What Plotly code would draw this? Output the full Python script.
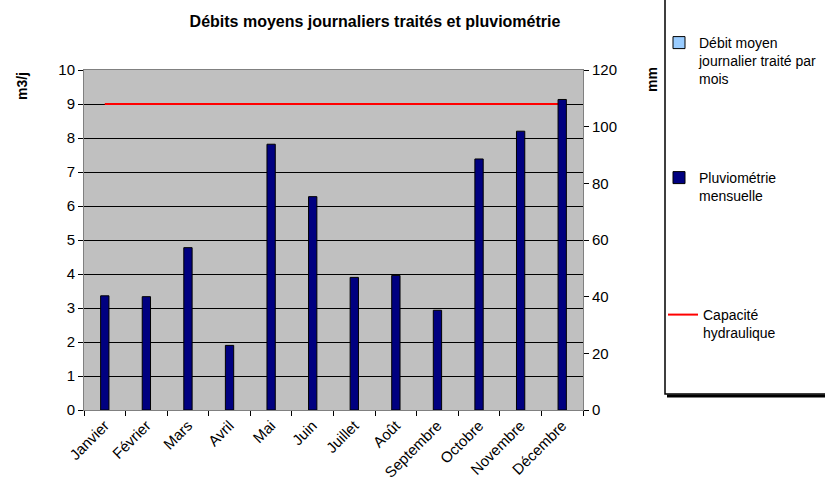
import plotly.graph_objects as go

months = ["Janvier", "Février", "Mars", "Avril", "Mai", "Juin", "Juillet",
          "Août", "Septembre", "Octobre", "Novembre", "Décembre"]
debit_moyen = [None] * 12  # no visible values in the reference
pluviometrie = [40.3, 40.0, 57.3, 22.8, 93.8, 75.3, 46.8, 47.5, 35.2, 88.6, 98.4, 109.6]
capacite = [9] * 12

FONT = "Liberation Sans, Arial, sans-serif"

# plot-area geometry in pixels
L, R, T, B = 84, 583, 70, 410
PW, PH = R - L, B - T


def px(x):
    return (x - L) / PW


def py(y):
    return (B - y) / PH


fig = go.Figure()
fig.add_trace(go.Bar(
    x=months, y=debit_moyen, name="Débit moyen<br>journalier traité par<br>mois",
    marker=dict(color="#99CCFF", line=dict(color="black", width=1)),
    width=0.2, yaxis="y", legend="legend", showlegend=True))
fig.add_trace(go.Bar(
    x=months, y=pluviometrie, name="Pluviométrie<br>mensuelle",
    marker=dict(color="#000080", line=dict(color="black", width=1)),
    width=0.2, yaxis="y2", legend="legend2"))
fig.add_trace(go.Scatter(
    x=months, y=capacite, name="Capacité<br>hydraulique", mode="lines",
    line=dict(color="#FF0000", width=2), yaxis="y", legend="legend3"))

leg_common = dict(xanchor="left", yanchor="top", bgcolor="rgba(0,0,0,0)",
                  borderwidth=0, font=dict(family=FONT, size=14, color="black"),
                  valign="top", itemwidth=30)

fig.update_layout(
    width=825, height=488,
    margin=dict(l=L, r=825 - R, t=T, b=488 - B, autoexpand=False),
    paper_bgcolor="white", plot_bgcolor="#C0C0C0",
    font=dict(family=FONT, size=14, color="black"),
    barmode="overlay",
    showlegend=True,
    title=dict(text="<b>Débits moyens journaliers traités et pluviométrie</b>",
               x=375 / 825, xanchor="center", y=1 - 21 / 488, yanchor="middle",
               font=dict(family=FONT, size=16, color="black")),
    xaxis=dict(type="category", tickangle=-45, tickson="boundaries",
               ticks="outside", ticklen=5, tickcolor="black",
               showline=True, linecolor="#808080", linewidth=1, mirror=True,
               showgrid=False, tickfont=dict(family=FONT, size=15)),
    yaxis=dict(range=[0, 10], dtick=1, ticks="outside", ticklen=5, tickcolor="black",
               showline=True, linecolor="#808080", linewidth=1, mirror=True,
               showgrid=True, gridcolor="black", gridwidth=1, zeroline=False,
               tickfont=dict(family=FONT, size=15)),
    yaxis2=dict(range=[0, 120], dtick=20, overlaying="y", side="right",
                ticks="outside", ticklen=5, tickcolor="black",
                showline=False, showgrid=False, zeroline=False,
                tickfont=dict(family=FONT, size=15)),
    legend=dict(x=px(659), y=py(27), **leg_common),
    legend2=dict(x=px(659), y=py(162), **leg_common),
    legend3=dict(x=px(663), y=py(299), **leg_common),
)

# y-axis titles placed like the reference (near the top)
fig.add_annotation(text="<b>m3/j</b>", xref="paper", yref="paper",
                   x=px(22), y=py(86), xanchor="center", yanchor="middle",
                   textangle=-90, showarrow=False, font=dict(family=FONT, size=14))
fig.add_annotation(text="<b>mm</b>", xref="paper", yref="paper",
                   x=px(652), y=py(80), xanchor="center", yanchor="middle",
                   textangle=-90, showarrow=False, font=dict(family=FONT, size=14))

# legend box with shadow
fig.add_shape(type="rect", xref="paper", yref="paper",
              x0=px(665), x1=px(840), y0=py(394), y1=py(-20),
              line=dict(color="black", width=1.5), fillcolor="rgba(0,0,0,0)", layer="above")
fig.add_shape(type="line", xref="paper", yref="paper",
              x0=px(667), x1=px(840), y0=py(396), y1=py(396),
              line=dict(color="black", width=3), layer="above")

fig.write_html("out.html")
